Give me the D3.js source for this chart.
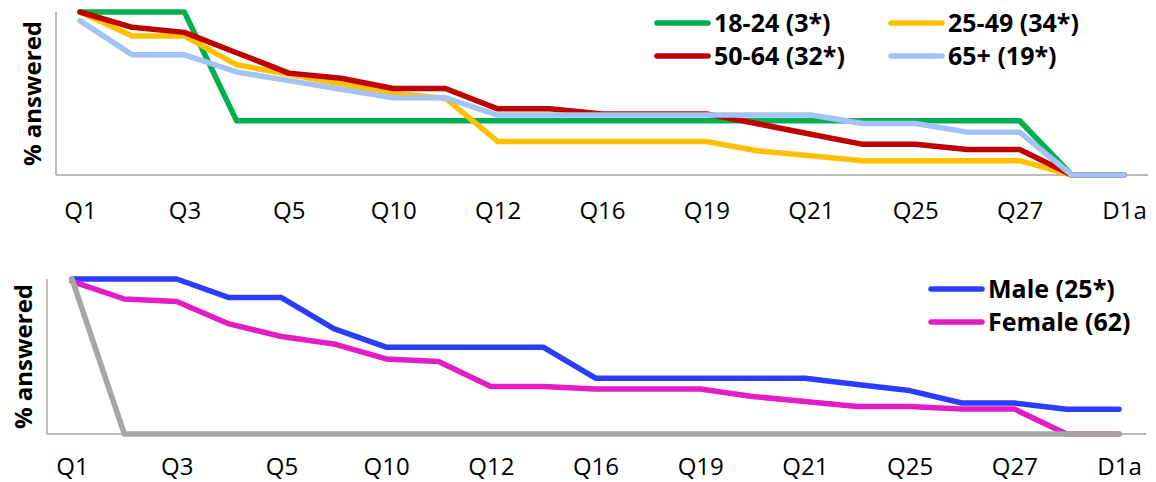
<!DOCTYPE html>
<html lang="en">
<head>
    <meta charset="UTF-8">
    <title>% answered by question</title>
    <script src="https://d3js.org/d3.v7.min.js"></script>
    <style>
        body { margin: 0; background: #fff; }
        svg { display: block; font-family: "Open Sans", sans-serif; }
    </style>
</head>
<body>
    <svg width="1156" height="482"></svg>
    <script>
        // question order along the x axis (only every other one gets a label)
        var categories = ['Q1', 'Q2', 'Q3', 'Q4', 'Q5', 'Q6', 'Q10', 'Q11', 'Q12', 'Q14', 'Q16',
                          'Q17', 'Q19', 'Q20', 'Q21', 'Q23', 'Q25', 'Q26', 'Q27', 'Q28', 'D1a'];

        // % answered, age groups
        var age1824 = [100, 100, 100, 33.3, 33.3, 33.3, 33.3, 33.3, 33.3, 33.3, 33.3, 33.3, 33.3, 33.3, 33.3, 33.3, 33.3, 33.3, 33.3, 0, 0];
        var age2549 = [100, 85.3, 85.3, 67.6, 61.8, 55.9, 50, 47.1, 20.6, 20.6, 20.6, 20.6, 20.6, 14.7, 11.8, 8.8, 8.8, 8.8, 8.8, 0, 0];
        var age5064 = [100, 90.6, 87.5, 75, 62.5, 59.4, 53.1, 53.1, 40.6, 40.6, 37.5, 37.5, 37.5, 31.3, 25, 18.8, 18.8, 15.6, 15.6, 0, 0];
        var age65 = [94.7, 73.7, 73.7, 63.2, 57.9, 52.6, 47.4, 47.4, 36.8, 36.8, 36.8, 36.8, 36.8, 36.8, 36.8, 31.6, 31.6, 26.3, 26.3, 0, 0];

        // % answered, gender
        var male = [100, 100, 100, 88, 88, 68, 56, 56, 56, 56, 36, 36, 36, 36, 36, 32, 28, 20, 20, 16, 16];
        var female = [98.4, 87.1, 85.5, 71, 62.9, 58.1, 48.4, 46.8, 30.6, 30.6, 29, 29, 29, 24.2, 21, 17.7, 17.7, 16.1, 16.1, 0, 0];
        var other = [100, 0, 0, 0, 0, 0, 0, 0, 0, 0, 0, 0, 0, 0, 0, 0, 0, 0, 0, 0, 0];

        var svg = d3.select('svg');

        function drawPanel(p) {
            var g = svg.append('g');
            var x = d3.scalePoint().domain(categories).range([p.x0, p.x1]);
            var y = d3.scaleLinear().domain([0, 100]).range([p.bottom, p.top]);

            // axis lines
            g.append('line')
                .attr('x1', p.axisLeft).attr('x2', p.axisRight)
                .attr('y1', p.bottom).attr('y2', p.bottom)
                .attr('stroke', '#a6a6a6').attr('stroke-width', 1.5);
            g.append('line')
                .attr('x1', p.axisLeft).attr('x2', p.axisLeft)
                .attr('y1', p.top).attr('y2', p.bottom)
                .attr('stroke', '#a6a6a6').attr('stroke-width', 1.5);

            var xAxis = d3.axisBottom(x).tickSize(0).tickPadding(0)
                .tickFormat((d, i) => i % 2 === 0 ? d : '');
            var ax = g.append('g')
                .attr('transform', 'translate(0,' + p.bottom + ')')
                .call(xAxis);
            ax.select('.domain').remove();
            ax.selectAll('text')
                .attr('dy', null)
                .attr('y', p.labelY - p.bottom)
                .attr('fill', '#000')
                .style('font-size', '24px')
                .style('font-family', '"Open Sans", sans-serif');

            g.append('text')
                .attr('transform', 'translate(' + p.titleX + ',' + ((p.top + p.bottom) / 2) + ') rotate(-90)')
                .attr('text-anchor', 'middle')
                .style('font-size', '24px')
                .style('font-weight', 700)
                .text('% answered');

            var line = d3.line()
                .x((d, i) => x(categories[i]))
                .y(d => y(d));

            g.selectAll('path.series').data(p.series)
                .enter().append('path')
                .attr('class', 'series')
                .attr('d', s => line(s.values))
                .attr('fill', 'none')
                .attr('stroke', s => s.color)
                .attr('stroke-width', 5.5)
                .attr('stroke-linejoin', 'round')
                .attr('stroke-linecap', 'round');

            var leg = g.selectAll('g.leg').data(p.series.filter(s => s.label))
                .enter().append('g')
                .attr('class', 'leg')
                .attr('transform', (s, i) => 'translate(' + p.legend[i][0] + ',' + p.legend[i][1] + ')');
            leg.append('line')
                .attr('x1', 0).attr('x2', 51)
                .attr('stroke', s => s.color)
                .attr('stroke-width', 5.5)
                .attr('stroke-linecap', 'round');
            leg.append('text')
                .attr('x', 57)
                .attr('dy', '0.35em')
                .style('font-size', '25px')
                .style('font-weight', 700)
                .text(s => s.label);
        }

        drawPanel({
            x0: 80, x1: 1124, top: 12, bottom: 175,
            axisLeft: 56, axisRight: 1148, labelY: 219, titleX: 41,
            series: [
                { label: '18-24 (3*)', values: age1824, color: '#00b050' },
                { label: '25-49 (34*)', values: age2549, color: '#ffc000' },
                { label: '50-64 (32*)', values: age5064, color: '#c00000' },
                { label: '65+ (19*)', values: age65, color: '#a4c2f4' }
            ],
            // legend order: 18-24, 25-49, 50-64, 65+
            legend: [[657, 23], [891, 23], [657, 56], [891, 56]]
        });

        drawPanel({
            x0: 72, x1: 1119, top: 279, bottom: 434,
            axisLeft: 47, axisRight: 1146, labelY: 475, titleX: 32,
            series: [
                { label: 'Male (25*)', values: male, color: '#2a3cff' },
                { label: 'Female (62)', values: female, color: '#e41cc6' },
                { label: null, values: other, color: '#a6a6a6' }
            ],
            legend: [[931, 289], [931, 322]]
        });
    </script>
</body>
</html>
